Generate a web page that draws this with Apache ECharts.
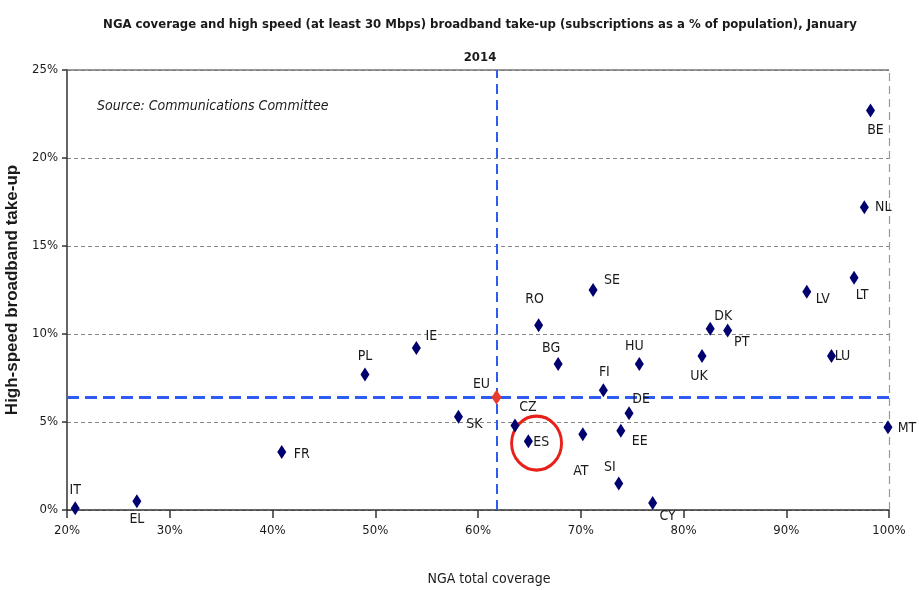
<!DOCTYPE html>
<html>
<head>
<meta charset="utf-8">
<script src="https://cdn.jsdelivr.net/npm/echarts@6/dist/echarts.min.js"></script>
<style>
  html, body { margin: 0; padding: 0; background: #fff; }
  #chart { width: 919px; height: 590px; }
</style>
</head>
<body>
<div id="chart"></div>
<script>
// country codes, NGA coverage (%), high-speed take-up (%)
const countries = ['IT', 'EL', 'FR', 'PL', 'IE', 'SK', 'CZ', 'ES', 'RO', 'BG', 'SE', 'AT', 'FI', 'HU', 'DE', 'EE', 'SI', 'CY', 'UK', 'DK', 'PT', 'LV', 'LU', 'LT', 'NL', 'BE', 'MT']
const coverage  = [20.8, 26.8, 40.9, 49.0, 54.0, 58.1, 63.6, 64.9, 65.9, 67.8, 71.2, 70.2, 72.2, 75.7, 74.7, 73.9, 73.7, 77.0, 81.8, 82.6, 84.3, 92.0, 94.4, 96.6, 97.6, 98.2, 99.9]
const takeup    = [0.1, 0.5, 3.3, 7.7, 9.2, 5.3, 4.8, 3.9, 10.5, 8.3, 12.5, 4.3, 6.8, 8.3, 5.5, 4.5, 1.5, 0.4, 8.75, 10.3, 10.2, 12.4, 8.75, 13.2, 17.2, 22.7, 4.7]

// EU average
const euCoverage = 61.8
const euTakeup = 6.4

// highlighted country (circled)
const highlight = ['ES']

const xTicks = [20, 30, 40, 50, 60, 70, 80, 90, 100]
const yTicks = [0, 5, 10, 15, 20, 25]

// label placement per country: [dx, dy] relative to the point
const labelOffsets = {
  IT: [0, -18], EL: [0, 18], FR: [20, 2], PL: [0, -18], IE: [15, -12], SK: [16, 8],
  CZ: [13, -18], ES: [13, 1], RO: [-4, -26], BG: [-7, -16], SE: [19, -10], AT: [-2, 37],
  FI: [1, -18], HU: [-5, -18], DE: [12, -14], EE: [19, 11], SI: [-9, -16], CY: [15, 13],
  UK: [-3, 20], DK: [13, -12], PT: [14, 12], LV: [16, 8], LU: [11, 0], LT: [8, 18],
  NL: [19, 0], BE: [5, 20], MT: [19, 1]
}

const narrow = '"Liberation Sans Narrow", "DejaVu Sans Condensed", "Arial Narrow", sans-serif'
const textColor = '#1a1a1a'

const points = countries.map((c, i) => ({
  name: c,
  value: [coverage[i], takeup[i]],
  label: { offset: labelOffsets[c] || [0, 0] }
}))

const circled = highlight.map(c => {
  const i = countries.indexOf(c)
  return { name: c, value: [coverage[i] + 0.8, takeup[i] - 0.1] }
})

const chart = echarts.init(document.getElementById('chart'))

chart.setOption({
  backgroundColor: '#fff',
  animation: false,
  title: {
    text: 'NGA coverage and high speed (at least 30 Mbps) broadband take-up (subscriptions as a % of population), January\n2014',
    left: 475,
    textAlign: 'center',
    top: 3,
    textStyle: { fontFamily: narrow, fontSize: 13, fontWeight: 'bold', color: textColor, lineHeight: 33 }
  },
  grid: { left: 67, right: 30, top: 70, bottom: 80, outerBoundsMode: 'none', containLabel: false },
  graphic: [{
    type: 'text',
    left: 97,
    top: 99,
    style: {
      text: 'Source: Communications Committee',
      fontFamily: narrow, fontSize: 14, fontStyle: 'italic', fill: textColor
    }
  }],
  xAxis: {
    type: 'value',
    min: 20, max: 100, interval: 10,
    name: 'NGA total coverage',
    nameLocation: 'middle',
    nameGap: 62,
    nameTextStyle: { fontFamily: narrow, fontSize: 14, color: textColor, padding: [0, 0, 0, 22] },
    axisLine: { show: true, lineStyle: { color: '#333', width: 1.5 } },
    axisTick: { show: true, length: 8, lineStyle: { color: '#333', width: 1.5 } },
    axisLabel: { fontFamily: narrow, fontSize: 13, color: textColor, margin: 14, formatter: v => xTicks.includes(v) ? v + '%' : '' },
    splitLine: { show: false }
  },
  yAxis: {
    type: 'value',
    min: 0, max: 25, interval: 5,
    name: 'High-speed broadband take-up',
    nameLocation: 'middle',
    nameRotate: 90,
    nameGap: 40,
    nameTextStyle: { fontFamily: '"Liberation Sans", Arial, sans-serif', fontSize: 17, fontWeight: 'bold', color: textColor },
    axisLine: { show: true, lineStyle: { color: '#333', width: 1.5 } },
    axisTick: { show: true, length: 5, lineStyle: { color: '#333', width: 1.5 } },
    axisLabel: { fontFamily: narrow, fontSize: 13, color: textColor, margin: 9, formatter: v => yTicks.includes(v) ? v + '%' : '' },
    splitLine: { show: true, lineStyle: { color: '#888', type: [4, 3], width: 1 } }
  },
  series: [
    {
      name: 'Countries',
      type: 'scatter',
      symbol: 'diamond',
      symbolSize: [9, 14],
      itemStyle: { color: '#00006e', opacity: 1 },
      data: points,
      label: {
        show: true,
        position: 'inside',
        formatter: p => p.name,
        fontFamily: narrow, fontSize: 14, color: textColor
      },
      z: 5,
      markLine: {
        silent: true,
        symbol: ['none', 'none'],
        label: { show: false },
        data: [
          { xAxis: 100, lineStyle: { color: '#999', type: [8, 5], width: 1.2 } },
          { yAxis: 25, lineStyle: { color: '#777', type: 'solid', width: 1.5 } }
        ]
      }
    },
    {
      name: 'EU',
      type: 'scatter',
      symbol: 'diamond',
      symbolSize: [10, 15],
      itemStyle: { color: '#ea3a2e', opacity: 1 },
      data: [{ name: 'EU', value: [euCoverage, euTakeup] }],
      label: {
        show: true,
        position: 'inside',
        offset: [-15, -13],
        formatter: 'EU',
        fontFamily: narrow, fontSize: 14, color: textColor
      },
      z: 6,
      markLine: {
        silent: true,
        symbol: ['none', 'none'],
        label: { show: false },
        data: [
          { xAxis: euCoverage, lineStyle: { color: '#2f5cf0', type: [10, 6], width: 2 } },
          { yAxis: euTakeup, lineStyle: { color: '#2f5cf0', type: [12, 6], width: 3 } }
        ]
      }
    },
    {
      name: 'Highlight',
      type: 'scatter',
      symbol: 'circle',
      symbolSize: [50, 54],
      itemStyle: { color: 'rgba(0,0,0,0)', borderColor: '#e8201a', borderWidth: 3, opacity: 1 },
      data: circled,
      z: 4
    }
  ]
})
</script>
</body>
</html>
